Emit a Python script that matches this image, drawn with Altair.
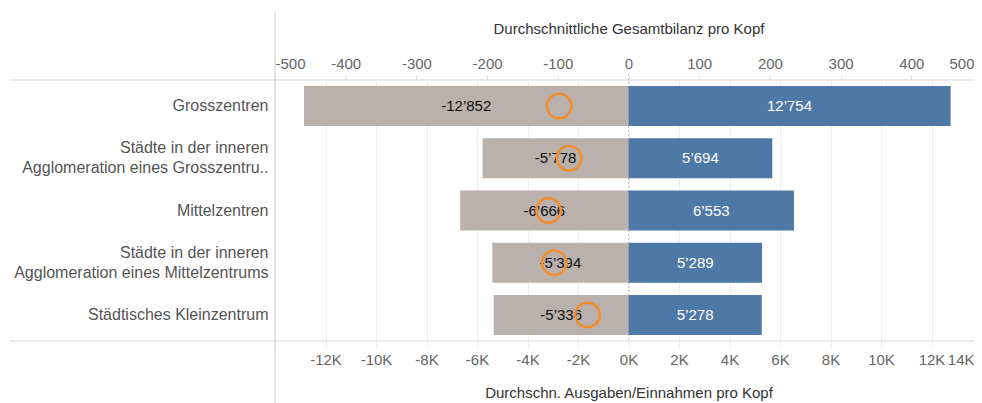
import altair as alt
import pandas as pd

categories = [
    "Grosszentren",
    "Städte in der inneren\nAgglomeration eines Grosszentru..",
    "Mittelzentren",
    "Städte in der inneren\nAgglomeration eines Mittelzentrums",
    "Städtisches Kleinzentrum",
]
ausgaben = [-12852, -5778, -6666, -5394, -5336]
einnahmen = [12754, 5694, 6553, 5289, 5278]
bilanz = [-98, -84, -113, -105, -58]

bottom_ticks = list(range(-14000, 14001, 2000))
top_ticks = list(range(-500, 501, 100))


def fmt(v):
    return f"{v:,}".replace(",", "\u2019")


rows = []
for c, a, e in zip(categories, ausgaben, einnahmen):
    rows.append(dict(cat=c, typ="Ausgaben", value=a, label=fmt(a)))
    rows.append(dict(cat=c, typ="Einnahmen", value=e, label=fmt(e)))
df = pd.DataFrame(rows)
bal = pd.DataFrame({"cat": categories, "bilanz": bilanz})
one = pd.DataFrame({"k": [0]})

FONT = "Liberation Sans"
W, H = 707, 261
CUT = 8  # right part hidden by the page margin

y_enc = alt.Y(
    "cat:N",
    sort=categories,
    scale=alt.Scale(paddingInner=0.234, paddingOuter=0.117),
    axis=alt.Axis(
        title=None,
        labelExpr="split(datum.label, '\\n')",
        labelOffset={"condition": {"test": "indexof(datum.value, '\\n') >= 0", "value": -10}, "value": 0},
        ticks=False,
        domain=False,
        labelPadding=7,
        labelFontSize=16,
        labelColor="#555555",
        labelLineHeight=20,
        labelLimit=400,
        labelFont=FONT,
    ),
)

x_scale = alt.Scale(domain=[-14000, 14000], nice=False, zero=False)
x_axis = alt.Axis(
    orient="bottom",
    title="Durchschn. Ausgaben/Einnahmen pro Kopf",
    values=bottom_ticks,
    labelExpr="datum.value == -14000 ? '' : (datum.value/1000) + 'K'",
    labelOffset={"condition": {"test": "datum.value == 14000", "value": -CUT}, "value": 0},
    grid=True,
    gridColor="#eeeeee",
    domain=False,
    tickSize=6,
    tickColor="#eeeeee",
    labelPadding=5,
    labelFontSize=15,
    labelColor="#666666",
    labelFont=FONT,
    titleFont=FONT,
    titleFontSize=15,
    titleColor="#333333",
    titleFontWeight="normal",
    titlePadding=18,
    labelFlush=True,
    labelOverlap=False,
)

bars = alt.Chart(df).mark_bar().encode(
    x=alt.X("value:Q", scale=x_scale, axis=x_axis, stack=None),
    y=y_enc,
    color=alt.Color(
        "typ:N",
        scale=alt.Scale(domain=["Ausgaben", "Einnahmen"], range=["#BAB0AC", "#4E79A7"]),
        legend=None,
    ),
)

texts = alt.Chart(df).transform_calculate(mid="datum.value / 2").mark_text(
    fontSize=15, font=FONT, align="center", baseline="middle"
).encode(
    x=alt.X("mid:Q", scale=x_scale, axis=x_axis, stack=None),
    y=y_enc,
    text="label:N",
    color=alt.condition("datum.value < 0", alt.value("#111111"), alt.value("#ffffff")),
)

zero = alt.Chart(one).mark_rule(color="#c4c4c4", strokeDash=[2, 2], strokeWidth=1).encode(
    x=alt.X("k:Q", scale=x_scale, axis=x_axis),
    y=alt.value(-6),
    y2=alt.value(H),
)

line_col = "#d6d6d6"
htop = alt.Chart(one).mark_rule(color=line_col, strokeWidth=1.2).encode(
    x=alt.value(-265), x2=alt.value(W - CUT), y=alt.value(0)
)
hbot = alt.Chart(one).mark_rule(color=line_col, strokeWidth=1.2).encode(
    x=alt.value(-265), x2=alt.value(W - CUT), y=alt.value(H)
)
vdiv = alt.Chart(one).mark_rule(color=line_col, strokeWidth=1.2).encode(
    x=alt.value(0), y=alt.value(-68), y2=alt.value(H + 62)
)

circles = alt.Chart(bal).mark_point(
    shape="circle", filled=False, size=600, strokeWidth=2.5, color="#F28E2B", opacity=1
).encode(
    x=alt.X(
        "bilanz:Q",
        scale=alt.Scale(domain=[-500, 500], nice=False, zero=False),
        axis=alt.Axis(
            orient="top",
            title="Durchschnittliche Gesamtbilanz pro Kopf",
            values=top_ticks,
            labelExpr="datum.value + ''",
            labelOffset={"condition": {"test": "datum.value == 500", "value": -CUT}, "value": 0},
            grid=False,
            domain=False,
            tickSize=5,
            tickColor="#e0e0e0",
            labelPadding=4,
            labelFontSize=15,
            labelColor="#666666",
            labelFont=FONT,
            titleFont=FONT,
            titleFontSize=15,
            titleColor="#333333",
            titleFontWeight="normal",
            titlePadding=20,
            labelFlush=True,
            labelOverlap=False,
        ),
    ),
    y=y_enc,
)

inner = alt.layer(zero, bars, texts, htop, hbot, vdiv)
chart = (
    alt.layer(inner, circles)
    .resolve_scale(x="independent")
    .properties(
        width=W,
        height=H,
        autosize=alt.AutoSizeParams(type="none"),
        padding={"left": 267, "top": 72, "right": -CUT, "bottom": 62},
    )
    .configure(font=FONT)
    .configure_view(stroke=None)
)

chart.save("out.html", embed_options={"renderer": "svg", "actions": False})
